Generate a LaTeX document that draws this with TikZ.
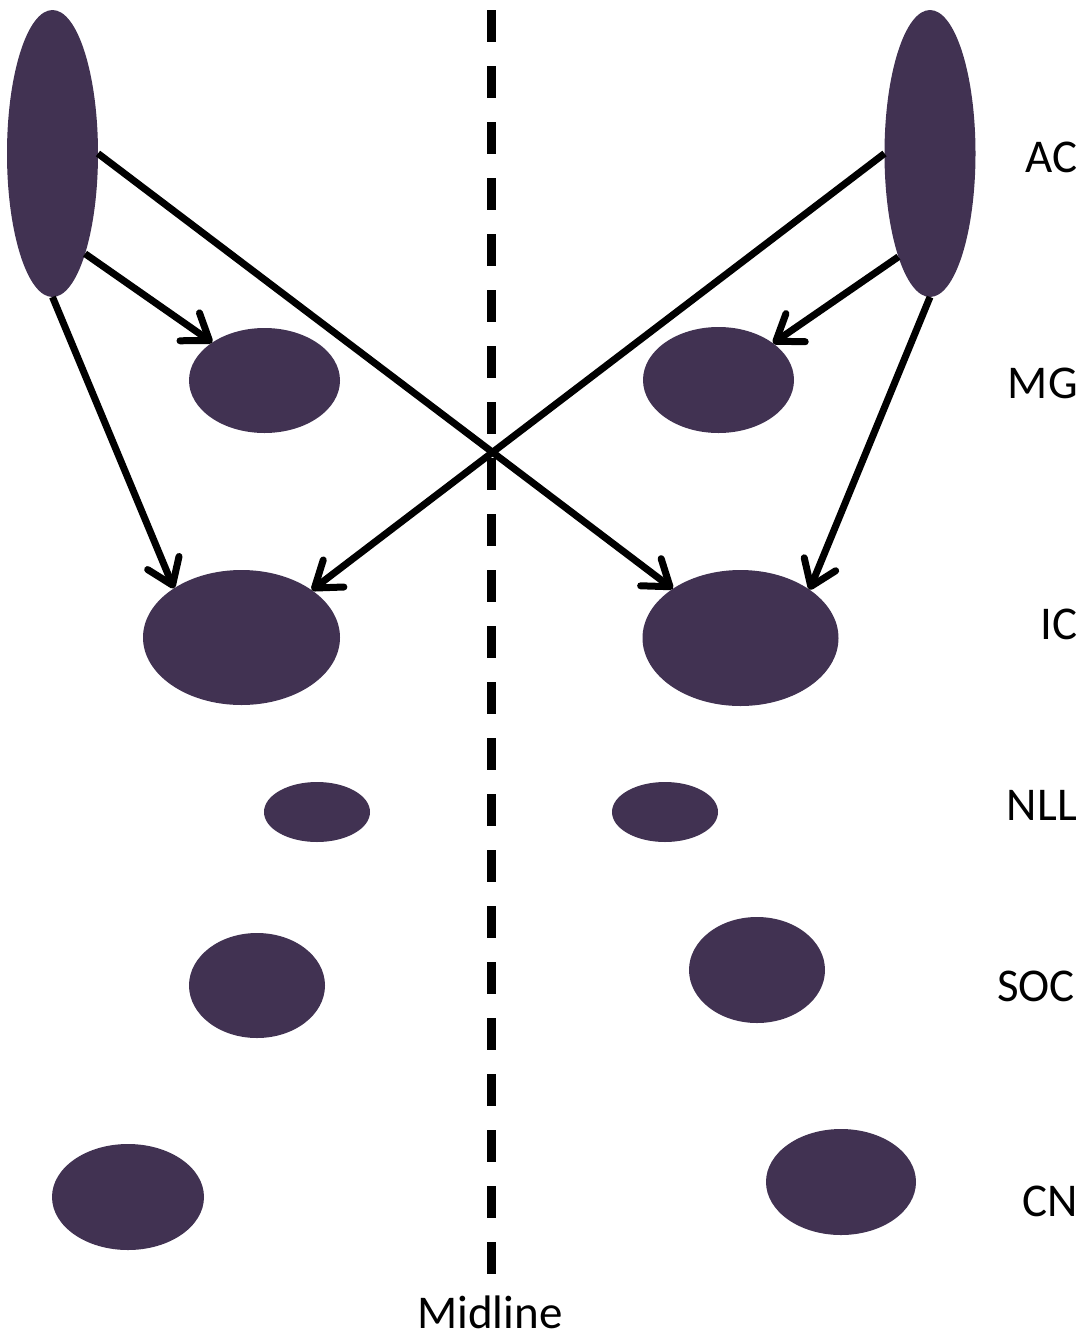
\documentclass[tikz,border=0pt]{standalone}
\usepackage{fontspec}
\setmainfont{Carlito}
\usetikzlibrary{shapes.geometric,arrows.meta}
\definecolor{nuc}{RGB}{65,50,82}
\begin{document}
\begin{tikzpicture}[x=1pt,y=-1pt,
 nucleus/.style={ellipse, fill=nuc, draw=none, inner sep=0pt, outer sep=0pt},
 proj/.style={line width=7pt, -{Straight Barb[length=24pt,width=34pt,line cap=round,line join=round]}},
 lab/.style={font=\fontsize{47}{56}\selectfont, anchor=base east, inner sep=0pt},
 midl/.style={line width=9pt, dash pattern=on 32pt off 24pt}]
\useasboundingbox (0,0) rectangle (1088,1339);
% nuclei
\node[nucleus, minimum width=91pt, minimum height=287pt] (acL) at (52.5,153.5) {};
\node[nucleus, minimum width=91pt, minimum height=287pt] (acR) at (930,153.5) {};
\node[nucleus, minimum width=151pt, minimum height=105pt] (mgL) at (264.5,380.5) {};
\node[nucleus, minimum width=151pt, minimum height=106pt] (mgR) at (718.5,380) {};
\node[nucleus, minimum width=197pt, minimum height=135pt] (icL) at (241.5,637.5) {};
\node[nucleus, minimum width=196pt, minimum height=136pt] (icR) at (740.5,638) {};
\node[nucleus, minimum width=106pt, minimum height=60pt] (nllL) at (317,812) {};
\node[nucleus, minimum width=106pt, minimum height=60pt] (nllR) at (665,812) {};
\node[nucleus, minimum width=136pt, minimum height=105pt] (socL) at (257,985.5) {};
\node[nucleus, minimum width=136pt, minimum height=106pt] (socR) at (757,970) {};
\node[nucleus, minimum width=152pt, minimum height=106pt] (cnL) at (128,1197) {};
\node[nucleus, minimum width=150pt, minimum height=106pt] (cnR) at (841,1182) {};
% midline
\coordinate (mtop) at (491.5,10);
\coordinate (mbot) at (491.5,1274);
\draw[midl] (mtop) -- (mbot);
\node[font=\fontsize{47}{56}\selectfont, anchor=base, inner sep=0pt] (midlbl) at (490,1328) {Midline};
% projections
\draw[proj] (acL.east) -- (icR.144.7);
\draw[proj] (acL.-72.3) -- (mgL.144.8);
\draw[proj] (acL.south) -- (icL.144.5);
\draw[proj] (acR.west) -- (icL.34.2);
\draw[proj] (acR.-107.7) -- (mgR.34.7);
\draw[proj] (acR.south) -- (icR.35.7);
% labels
\node[lab] (lAC) at (1078,172) {AC};
\node[lab] (lMG) at (1078,398) {MG};
\node[lab] (lIC) at (1078,639) {IC};
\node[lab] (lNLL) at (1077,820) {NLL};
\node[lab] (lSOC) at (1075,1001) {SOC};
\node[lab] (lCN) at (1078,1216) {CN};
\end{tikzpicture}
\end{document}
